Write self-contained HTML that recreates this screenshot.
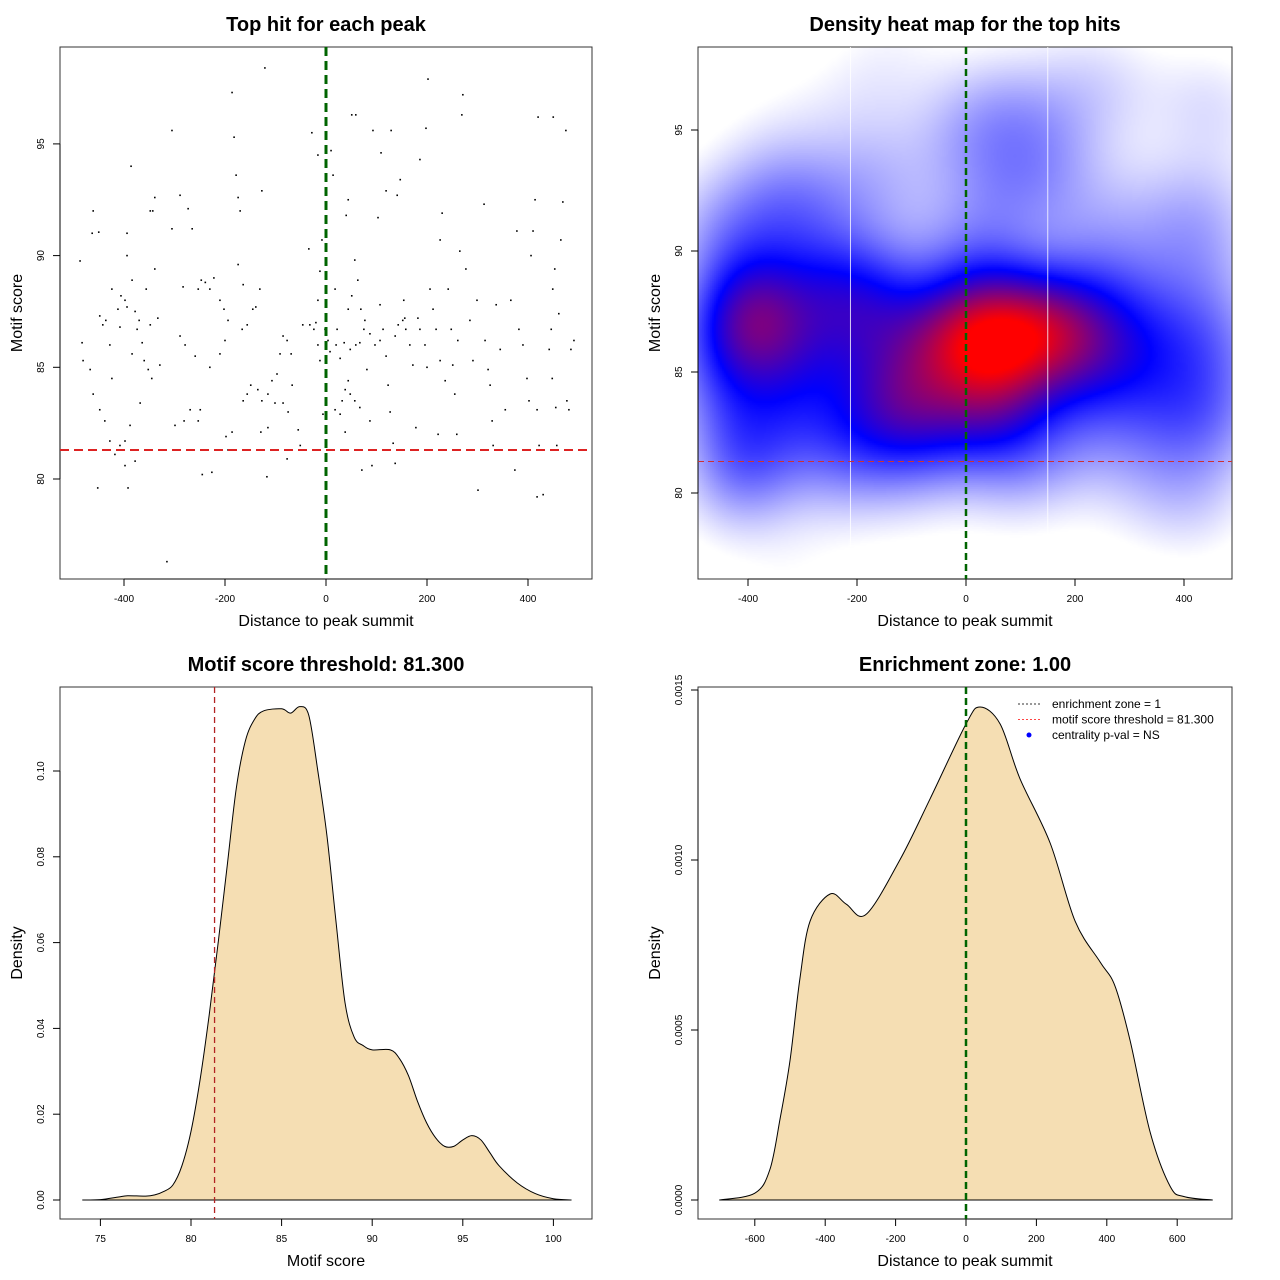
<!DOCTYPE html>
<html><head><meta charset="utf-8">
<style>
body{margin:0;background:#fff;width:1280px;height:1280px;position:relative;overflow:hidden;font-family:"Liberation Sans",sans-serif}
canvas{position:absolute;left:698px;top:47px}
svg{position:absolute;left:0;top:0}
text{font-family:"Liberation Sans",sans-serif}
</style></head><body>
<canvas id="heat" width="534" height="532"></canvas>
<svg id="s" width="1280" height="1280"></svg>
<script>
// ---- data ----
const hitX=[-487,-461,-463,-450,-483,-481,-467,-448,-442,-436,-428,-424,-424,-412,-408,-406,-398,-394,-394,-394,-386,-384,-384,-378,-374,-370,-368,-364,-360,-356,-348,-343,-339,-339,-352,-345,-329,-315,-305,-305,-289,-283,-273,-265,-289,-279,-259,-253,-247,-239,-249,-269,-281,-299,-253,-245,-226,-230,-210,-200,-186,-182,-178,-174,-170,-174,-164,-186,-198,-194,-166,-156,-145,-139,-149,-156,-164,-131,-127,-121,-117,-129,-115,-107,-97,-91,-85,-77,-69,-67,-75,-55,-77,-51,-46,-34,-28,-16,-12,-16,-20,-16,-12,-8,-6,10,14,18,22,28,32,38,40,44,51,59,44,51,57,63,69,77,81,87,71,91,93,103,107,113,119,123,127,133,137,109,119,129,141,147,154,158,166,172,178,186,198,202,206,212,218,226,230,222,242,248,251,255,259,271,269,265,277,285,291,299,301,313,315,321,325,329,331,337,345,355,366,374,378,382,390,398,402,406,410,414,420,418,422,418,430,442,446,450,448,455,457,461,465,469,475,477,481,485,491,449,453,-32,-24,-2,4,8,20,36,48,59,67,75,87,97,107,137,143,152,156,182,186,196,200,226,236,261,38,48,57,67,28,18,44,-85,-101,-115,-127,-135,-210,-202,-194,-230,-222,-348,-333,-388,-398,-408,-428,-438,-448,-418,-398,-392,-452,-378,-461];
const hitY=[89.76,92.0,91.0,91.05,86.1,85.3,84.9,87.3,86.9,87.1,86,88.5,84.5,87.6,86.8,88.2,88,87.7,91,90,94,88.9,85.6,87.5,86.7,87.1,83.4,86.1,85.3,88.5,92,92,92.6,89.4,84.9,84.5,85.1,76.3,95.6,91.2,92.7,88.6,92.1,91.2,86.4,86,85.5,88.5,88.9,88.8,83.1,83.1,82.6,82.4,82.6,80.2,80.3,85,85.6,86.2,97.3,95.3,93.6,92.6,92,89.6,88.7,82.1,81.9,81.3,86.7,86.9,87.6,87.7,84.2,83.8,83.5,88.5,92.9,98.4,80.1,82.1,82.3,84.4,84.7,85.6,86.4,86.2,85.6,84.2,83,82.2,80.9,81.5,86.9,90.3,95.5,94.5,89.3,88,87,86,85.3,90.7,82.9,94.7,93.6,88.5,86.7,85.4,83.5,82.1,91.8,92.5,96.3,96.3,87.6,88.2,89.8,88.9,87.6,87.1,84.9,82.6,80.4,80.6,95.6,91.7,87.8,86.7,85.5,84.2,83,81.6,80.7,94.6,92.9,95.6,92.7,93.4,88,86.7,86,85.1,82.3,94.3,95.7,97.9,88.5,87.6,86.7,90.7,91.9,82,88.5,86.7,85.1,83.8,82,97.2,96.3,90.2,89.4,87.1,85.3,88,79.5,92.3,86.2,84.9,84.2,82.6,81.5,87.8,85.8,83.1,88,80.4,91.1,86.7,86,84.5,83.5,90,91.1,92.5,96.2,83.1,81.5,79.2,79.3,85.8,86.7,96.2,84.5,83.2,81.5,87.4,90.7,92.4,95.6,83.5,83.1,85.8,86.2,88.5,89.4,86.9,86.7,86.7,86.2,85.7,86,86.1,85.8,86,86.1,86.7,86.5,86,86.2,86.4,86.9,87.1,87.2,87.2,86.7,86,85,85.3,84.4,86.2,84,83.8,83.5,83.2,82.9,83.1,84.4,83.4,83.4,83.8,83.5,84,88,87.6,87.1,88.5,89,86.9,87.2,82.4,81.7,81.5,81.7,82.6,83.1,81.1,80.6,79.6,79.6,80.8,83.8];
const scoreX=[74,75,76,76.5,77.5,78,78.5,79,79.5,80,80.5,81,81.5,82,82.5,83,83.5,84,85,85.5,86,86.5,87,87.5,88,88.5,89,89.5,90,91,91.5,92,92.5,93,93.5,94,94.5,95,95.5,96,96.5,97,98,99,100,101];
const scoreDens=[0,0.0001,0.0007,0.001,0.0009,0.0012,0.002,0.0035,0.008,0.016,0.028,0.043,0.06,0.078,0.096,0.107,0.112,0.114,0.1145,0.1135,0.115,0.113,0.1,0.085,0.065,0.046,0.038,0.036,0.035,0.035,0.033,0.029,0.023,0.018,0.0145,0.0125,0.0125,0.014,0.015,0.014,0.011,0.008,0.004,0.0015,0.0003,0];
const distX=[-700,-600,-557,-528,-500,-472,-443,-386,-340,-284,-188,-102,0,40,97,153,239,310,381,423,466,523,580,620,700];
const distDens=[0,0.00002,0.00009,0.00024,0.00041,0.00065,0.00082,0.0009,0.00087,0.00084,0.001,0.00118,0.0014,0.00145,0.0014,0.00124,0.00105,0.00082,0.0007,0.00063,0.00047,0.0002,0.00004,0.00001,0];
const threshold=81.3, zone=0;
const p1XTicks=[-400,-200,0,200,400], p1YTicks=[80,85,90,95];
const p3XTicks=[75,80,85,90,95,100], p3YTicks=[0,0.02,0.04,0.06,0.08,0.10];
const p4XTicks=[-600,-400,-200,0,200,400,600], p4YTicks=[0,0.0005,0.0010,0.0015];

const S=document.getElementById('s'),NS='http://www.w3.org/2000/svg';
function el(t,a,txt,p){const e=document.createElementNS(NS,t);for(const k in a)e.setAttribute(k,a[k]);if(txt!=null)e.textContent=txt;(p||S).appendChild(e);return e;}
function smooth(pts){let d='M'+pts[0][0]+','+pts[0][1];
 for(let i=0;i<pts.length-1;i++){const p0=pts[Math.max(0,i-1)],p1=pts[i],p2=pts[i+1],p3=pts[Math.min(pts.length-1,i+2)];
  const c1=[p1[0]+(p2[0]-p0[0])/6,p1[1]+(p2[1]-p0[1])/6],c2=[p2[0]-(p3[0]-p1[0])/6,p2[1]-(p3[1]-p1[1])/6];
  d+=`C${c1[0]},${c1[1]} ${c2[0]},${c2[1]} ${p2[0]},${p2[1]}`;}
 return d+'Z';}
function panel(name,box,sx,sy,xt,yt,xf,yf,title,xlab,ylab){
  const g=el('g',{});
  
  
  const r=el('rect',{x:box[0],y:box[1],width:box[2]-box[0],height:box[3]-box[1],fill:'none',stroke:'#333','stroke-width':1},null,g);
  
  const xa=el('g',{},null,g);
  el('line',{x1:sx(xt[0]),x2:sx(xt[xt.length-1]),y1:box[3],y2:box[3],stroke:'#000'},null,xa);
  xt.forEach(v=>{el('line',{x1:sx(v),x2:sx(v),y1:box[3],y2:box[3]+7,stroke:'#000'},null,xa);
    el('text',{x:sx(v),y:box[3]+23,'font-size':10,'text-anchor':'middle'},xf(v),xa);});
  const ya=el('g',{},null,g);
  el('line',{x1:box[0],x2:box[0],y1:sy(yt[0]),y2:sy(yt[yt.length-1]),stroke:'#000'},null,ya);
  yt.forEach(v=>{el('line',{x1:box[0]-7,x2:box[0],y1:sy(v),y2:sy(v),stroke:'#000'},null,ya);
    el('text',{x:box[0]-16,y:sy(v),'font-size':10,'text-anchor':'middle',transform:`rotate(-90 ${box[0]-16} ${sy(v)})`},yf(v),ya);});
  const cx=(box[0]+box[2])/2,cy=(box[1]+box[3])/2;
  const t=el('text',{x:cx,y:box[1]-16,'font-size':20,'font-weight':'bold','text-anchor':'middle'},title,g);
  
  const xl=el('text',{x:cx,y:box[3]+47,'font-size':16,'text-anchor':'middle'},xlab,g);
  
  const yl=el('text',{x:box[0]-38,y:cy,'font-size':16,'text-anchor':'middle',transform:`rotate(-90 ${box[0]-38} ${cy})`},ylab,g);
  
  return g;
}
// Panel 1
const b1=[60,47,592,579],sx1=x=>326+0.505*x,sy1=y=>479-22.34*(y-80);
const g1=panel('scatter-panel',b1,sx1,sy1,p1XTicks,p1YTicks,String,String,'Top hit for each peak','Distance to peak summit','Motif score');
hitX.forEach((x,i)=>{const c=el('rect',{x:sx1(x)-0.8,y:sy1(hitY[i])-0.8,width:1.6,height:1.6,fill:'#000'},null,g1);
  });
let l=el('line',{x1:b1[0],x2:b1[2],y1:sy1(threshold),y2:sy1(threshold),stroke:'#dd2222','stroke-width':2,'stroke-dasharray':'9,5'},null,g1);

l=el('line',{x1:sx1(zone),x2:sx1(zone),y1:b1[1],y2:b1[3],stroke:'#006400','stroke-width':3,'stroke-dasharray':'9,5'},null,g1);

// Panel 2 heatmap
const b2=[698,47,1232,579],sx2=x=>966+0.545*x,sy2=y=>493-24.2*(y-80);
const cv=document.getElementById('heat'),ctx=cv.getContext('2d');
const W=534,H=532,step=2,bx=75,by=1.7;
const gw=Math.ceil(W/step),gh=Math.ceil(H/step);const D=new Float32Array(gw*gh);let mx=0;
for(let j=0;j<gh;j++){const py=b2[1]+j*step+1;const yv=80-(py-493)/24.2;
 for(let i=0;i<gw;i++){const px=b2[0]+i*step+1;const xv=(px-966)/0.545;let s=0;
  for(let k=0;k<hitX.length;k++){const dx=(xv-hitX[k])/bx,dy=(yv-hitY[k])/by;const q=dx*dx+dy*dy;if(q<25)s+=Math.exp(-0.5*q);}
  D[j*gw+i]=s;if(s>mx)mx=s;}}
for(let j=0;j<gh;j++)for(let i=0;i<gw;i++){let t=Math.pow(D[j*gw+i]/mx,1.0);t=Math.min(1,Math.max(0,(t-0.05)*1.15));let r,g,b;
 if(t<0.5){r=g=255*(1-2*t);b=255;}else{r=255*(2*t-1);g=0;b=255*(2-2*t);}
 ctx.fillStyle=`rgb(${r|0},${g|0},${b|0})`;ctx.fillRect(i*step,j*step,step,step);}
const g2=panel('heatmap-panel',b2,sx2,sy2,p1XTicks,p1YTicks,String,String,'Density heat map for the top hits','Distance to peak summit','Motif score');
[-212,150].forEach(v=>{const w=el('line',{x1:sx2(v),x2:sx2(v),y1:b2[1],y2:b2[1]+500,stroke:'#fff','stroke-width':1,opacity:0.8},null,g2);
 });
l=el('line',{x1:b2[0],x2:b2[2],y1:sy2(threshold),y2:sy2(threshold),stroke:'#cc3333','stroke-width':1,'stroke-dasharray':'6,4'},null,g2);

l=el('line',{x1:sx2(zone),x2:sx2(zone),y1:b2[1],y2:b2[3],stroke:'#006400','stroke-width':2.5,'stroke-dasharray':'7,4'},null,g2);

// Panel 3
const b3=[60,687,592,1219],sx3=x=>191+18.12*(x-80),sy3=y=>1200-4290*y;
const g3=panel('score-density-panel',b3,sx3,sy3,p3XTicks,p3YTicks,String,v=>v.toFixed(2),'Motif score threshold: 81.300','Motif score','Density');
let p=el('path',{d:smooth(scoreX.map((x,i)=>[sx3(x),sy3(scoreDens[i])])),fill:'#f5deb3',stroke:'#000','stroke-width':1},null,g3);

l=el('line',{x1:sx3(threshold),x2:sx3(threshold),y1:b3[1],y2:b3[3],stroke:'#b22222','stroke-width':1.3,'stroke-dasharray':'6,4'},null,g3);

// Panel 4
const b4=[698,687,1232,1219],sx4=x=>966+0.352*x,sy4=y=>1200-340000*y;
const g4=panel('distance-density-panel',b4,sx4,sy4,p4XTicks,p4YTicks,String,v=>v.toFixed(4),'Enrichment zone: 1.00','Distance to peak summit','Density');
p=el('path',{d:smooth(distX.map((x,i)=>[sx4(x),sy4(distDens[i])])),fill:'#f5deb3',stroke:'#000','stroke-width':1,'stroke-linejoin':'round'},null,g4);

l=el('line',{x1:sx4(zone),x2:sx4(zone),y1:b4[1],y2:b4[3],stroke:'#006400','stroke-width':2.5,'stroke-dasharray':'7,4'},null,g4);

const lg=el('g',{},null,g4);
const items=[['enrichment zone = 1','#333333','line'],['motif score threshold = 81.300','#ff4444','line'],['centrality p-val = NS','#0000ff','pt']];
items.forEach((it,i)=>{const y=704+i*15.5;const e=el('g',{},null,lg);
 if(it[2]=='line')el('line',{x1:1018,x2:1042,y1:y,y2:y,stroke:it[1],'stroke-width':1,'stroke-dasharray':'2,2'},null,e);
 else el('circle',{cx:1029,cy:y,r:2.5,fill:it[1]},null,e);
 el('text',{x:1052,y:y+4,'font-size':12},it[0],e);});
</script>
</body></html>
